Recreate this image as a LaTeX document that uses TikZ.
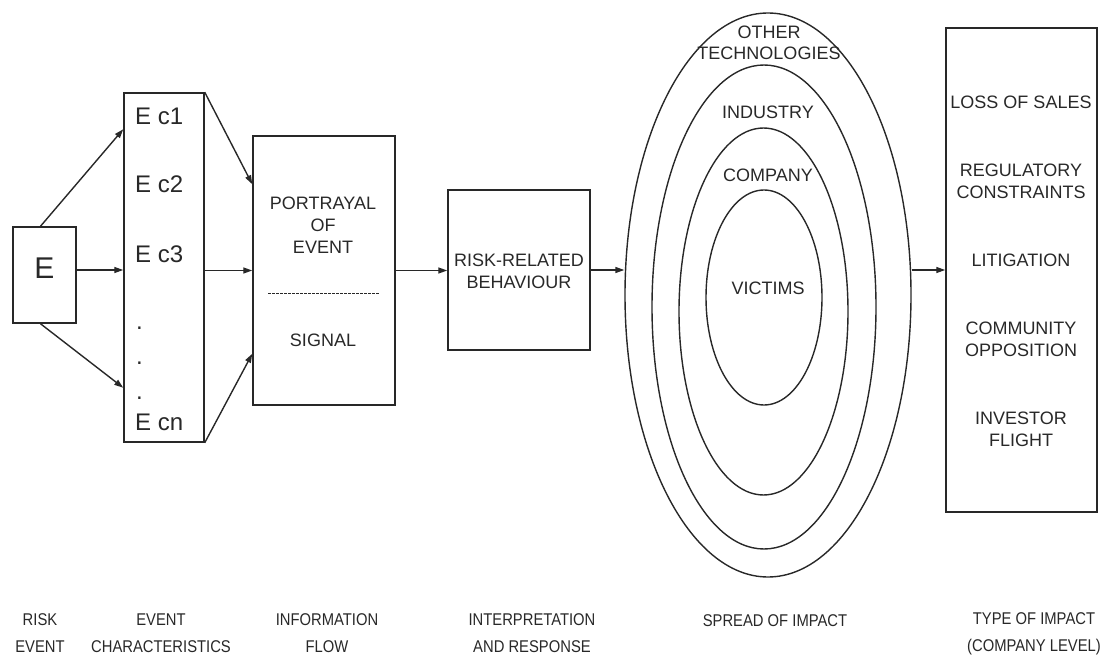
\documentclass[tikz,border=0pt]{standalone}
\usepackage{fontspec}
\setmainfont{Liberation Sans}
\newfontfamily\capfont{Liberation Sans}[FakeStretch=0.87]
\usetikzlibrary{arrows.meta,shapes.geometric,calc}
\definecolor{ink}{RGB}{40,40,40}
\begin{document}
\begin{tikzpicture}[x=1pt,y=-1pt,
  box/.style={draw=ink, line width=1.5pt, rectangle, inner sep=0pt},
  ell/.style={draw=ink, line width=1.4pt, ellipse, inner sep=0pt},
  arr/.style={draw=ink, line width=1.4pt, -{Triangle[length=9pt,width=6pt]}},
  lbl/.style={font=\fontsize{18}{22}\selectfont, text=ink, align=center, inner sep=0pt},
  ectxt/.style={font=\fontsize{24}{24}\selectfont, text=ink, inner sep=0pt},
  captxt/.style={font=\capfont\fontsize{17}{27}\selectfont, text=ink, align=center, inner sep=0pt},
  dashline/.style={draw=ink, line width=1pt, dash pattern=on 2.5pt off 1.5pt}
]
\useasboundingbox (0,0) rectangle (1109,655);

% risk event
\node[box, minimum width=63pt, minimum height=96pt] (E) at (44.5,275) {};
\node[font=\fontsize{30}{30}\selectfont, text=ink, inner sep=0pt] (Et) at (44.5,268) {E};

% event characteristics
\node[box, minimum width=80pt, minimum height=349pt] (Ec) at (164,267.5) {};
\node[ectxt, anchor=base west] (c1) at (135,125) {E c1};
\node[ectxt, anchor=base west] (c2) at (135,193) {E c2};
\node[ectxt, anchor=base west] (c3) at (135,262) {E c3};
\node[ectxt, anchor=base west] (d1) at (136,330) {.};
\node[ectxt, anchor=base west] (d2) at (136,364) {.};
\node[ectxt, anchor=base west] (d3) at (136,399) {.};
\node[ectxt, anchor=base west] (cn) at (135,430) {E cn};

% portrayal
\node[box, minimum width=142pt, minimum height=269pt] (P) at (324,270.5) {};
\node[lbl] (Pt) at (323,225.5) {PORTRAYAL\\OF\\EVENT};
\draw[dashline] (268,294) -- (380,294);
\node[lbl] (St) at (323,340) {SIGNAL};

% risk related behaviour
\node[box, minimum width=142pt, minimum height=160pt] (R) at (519,270) {};
\node[lbl] (Rt) at (519,271.5) {RISK-RELATED\\BEHAVIOUR};

% spread of impact
\node[ell, minimum width=286pt, minimum height=564pt] (O) at (768,295) {};
\node[ell, minimum width=224pt, minimum height=484pt] (I2) at (764,307) {};
\node[ell, minimum width=169pt, minimum height=367pt] (I3) at (763.5,311.5) {};
\node[ell, minimum width=116pt, minimum height=215pt] (I4) at (764,297.5) {};
\node[lbl, font=\fontsize{18}{21}\selectfont] (Ot) at (769,42.5) {OTHER\\TECHNOLOGIES};
\node[lbl] (It) at (768,112) {INDUSTRY};
\node[lbl] (Ct) at (768,175) {COMPANY};
\node[lbl] (Vt) at (768,288) {VICTIMS};

% type of impact
\node[box, minimum width=151pt, minimum height=484pt] (T) at (1021.5,270) {};
\node[lbl] (T1) at (1021,102) {LOSS OF SALES};
\node[lbl] (T2) at (1021,181) {REGULATORY\\CONSTRAINTS};
\node[lbl] (T3) at (1021,260) {LITIGATION};
\node[lbl] (T4) at (1021,339) {COMMUNITY\\OPPOSITION};
\node[lbl] (T5) at (1021,429) {INVESTOR\\FLIGHT};

% connectors
\draw[arr] ([xshift=-4pt]E.north) -- ([yshift=-37pt]Ec.north west);
\draw[arr] ([yshift=5pt]E.east) -- ([yshift=5pt]E.east -| Ec.west);
\draw[arr] ([xshift=-4pt]E.south) -- ([yshift=55pt]Ec.south west);
\draw[arr] (Ec.north east) -- ([yshift=-49pt]P.north west);
\draw[arr] (P.west -| Ec.east) -- (P.west);
\draw[arr] (Ec.south east) -- ([yshift=52pt]P.south west);
\draw[arr] (P.east) -- (P.east -| R.west);
\draw[arr] (R.east) -- (R.east -| O.west);
\draw[arr] (T.west -| O.east) -- (T.west);

% bottom captions
\node[captxt] (L1) at (40,633.5) {RISK\\EVENT};
\node[captxt] (L2) at (161,633.5) {EVENT\\CHARACTERISTICS};
\node[captxt] (L3) at (327,633.5) {INFORMATION\\FLOW};
\node[captxt] (L4) at (532,633.5) {INTERPRETATION\\AND RESPONSE};
\node[captxt, anchor=north] (L5) at (775,614) {SPREAD OF IMPACT};
\node[captxt] (L6) at (1034,633.5) {TYPE OF IMPACT\\(COMPANY LEVEL)};
\end{tikzpicture}
\end{document}
